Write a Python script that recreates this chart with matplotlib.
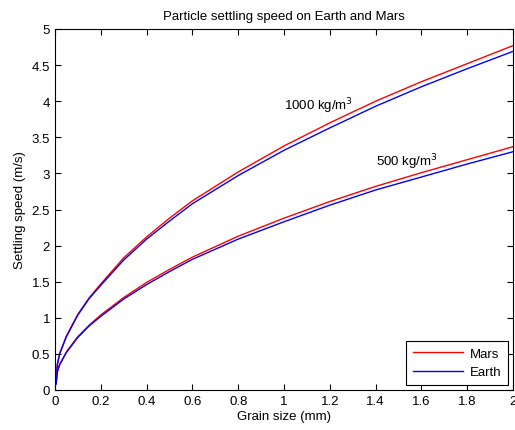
import numpy as np
import matplotlib
matplotlib.use('Agg')
import matplotlib.pyplot as plt

plt.rcParams['font.family'] = ['Liberation Sans', 'DejaVu Sans']
plt.rcParams['font.size'] = 9.5

# grain size (mm)
grain = [0.005, 0.01, 0.02, 0.05, 0.1, 0.15, 0.2, 0.3, 0.4, 0.5, 0.6, 0.8,
         1.0, 1.2, 1.4, 1.6, 1.8, 2.0]

# settling speed (m/s), density 1000 kg/m3
mars_1000 = [0.12, 0.35, 0.5, 0.75, 1.05, 1.28, 1.47, 1.83, 2.12, 2.38, 2.62,
             3.02, 3.38, 3.70, 4.00, 4.27, 4.52, 4.77]
earth_1000 = [0.1, 0.35, 0.5, 0.74, 1.04, 1.27, 1.45, 1.80, 2.09, 2.34, 2.58,
              2.97, 3.32, 3.63, 3.93, 4.20, 4.45, 4.69]

# settling speed (m/s), density 500 kg/m3
mars_500 = [0.1, 0.25, 0.35, 0.53, 0.74, 0.90, 1.04, 1.28, 1.49, 1.67, 1.84,
            2.13, 2.38, 2.61, 2.82, 3.01, 3.19, 3.37]
earth_500 = [0.08, 0.25, 0.35, 0.52, 0.73, 0.89, 1.02, 1.26, 1.46, 1.64, 1.81,
             2.09, 2.33, 2.56, 2.77, 2.95, 3.13, 3.30]

fig = plt.figure(figsize=(5.15, 4.31), dpi=100)
ax = fig.add_axes([55/515, 40/431, 458/515, 361/431])

ax.plot(grain, mars_1000, color='red', lw=1, label='Mars')
ax.plot(grain, earth_1000, color='blue', lw=1, label='Earth')
ax.plot(grain, mars_500, color='red', lw=1)
ax.plot(grain, earth_500, color='blue', lw=1)

ax.text(1.0, 3.95, '1000 kg/m$^3$', va='center', ha='left')
ax.text(1.4, 3.17, '500 kg/m$^3$', va='center', ha='left')

ax.set_xlim(0, 2)
ax.set_ylim(0, 5)
ax.set_xticks(np.arange(0, 2.01, 0.2))
ax.set_xticklabels(['0', '0.2', '0.4', '0.6', '0.8', '1', '1.2', '1.4', '1.6', '1.8', '2'])
ax.set_yticks(np.arange(0, 5.01, 0.5))
ax.set_yticklabels(['0', '0.5', '1', '1.5', '2', '2.5', '3', '3.5', '4', '4.5', '5'])
ax.tick_params(direction='in', top=True, right=True, length=4, width=0.8)
for s in ax.spines.values():
    s.set_linewidth(0.8)

ax.set_xlabel('Grain size (mm)', labelpad=2)
ax.set_ylabel('Settling speed (m/s)', labelpad=4)
ax.set_title('Particle settling speed on Earth and Mars', fontsize=9.5, pad=7)

leg = ax.legend(loc='lower right', fancybox=False, edgecolor='black',
                framealpha=1, borderaxespad=0.4, handlelength=3.8,
                handletextpad=0.5, labelspacing=0.45, borderpad=0.5)
leg.get_frame().set_linewidth(0.8)

fig.savefig('out.png', dpi=100)
